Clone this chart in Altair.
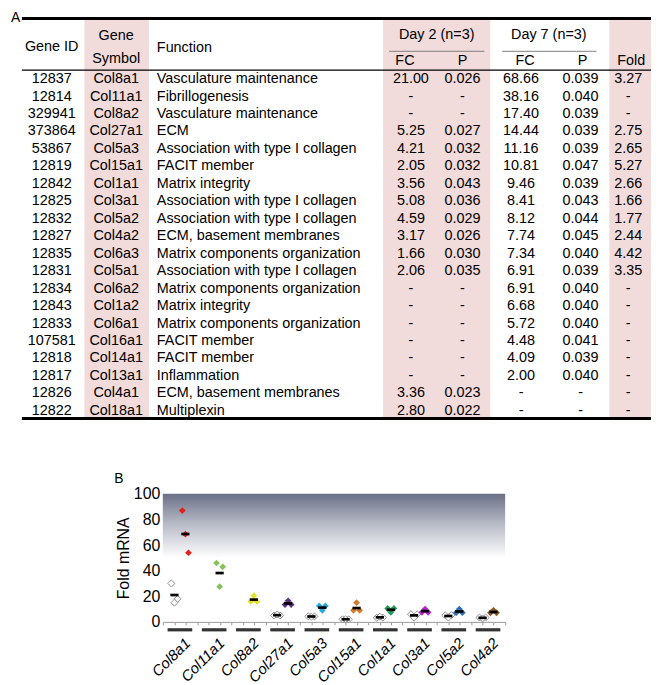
import altair as alt
import pandas as pd

# ---------------- Panel A: table values ----------------
gene_id = ["12837", "12814", "329941", "373864", "53867", "12819", "12842", "12825", "12832", "12827",
           "12835", "12831", "12834", "12843", "12833", "107581", "12818", "12817", "12826", "12822"]
gene_symbol = ["Col8a1", "Col11a1", "Col8a2", "Col27a1", "Col5a3", "Col15a1", "Col1a1", "Col3a1", "Col5a2", "Col4a2",
               "Col6a3", "Col5a1", "Col6a2", "Col1a2", "Col6a1", "Col16a1", "Col14a1", "Col13a1", "Col4a1", "Col18a1"]
gene_function = ["Vasculature maintenance", "Fibrillogenesis", "Vasculature maintenance", "ECM",
                 "Association with type I collagen", "FACIT member", "Matrix integrity",
                 "Association with type I collagen", "Association with type I collagen", "ECM, basement membranes",
                 "Matrix components organization", "Association with type I collagen",
                 "Matrix components organization", "Matrix integrity", "Matrix components organization",
                 "FACIT member", "FACIT member", "Inflammation", "ECM, basement membranes", "Multiplexin"]
day2_fc = ["21.00", "-", "-", "5.25", "4.21", "2.05", "3.56", "5.08", "4.59", "3.17",
           "1.66", "2.06", "-", "-", "-", "-", "-", "-", "3.36", "2.80"]
day2_p = ["0.026", "-", "-", "0.027", "0.032", "0.032", "0.043", "0.036", "0.029", "0.026",
          "0.030", "0.035", "-", "-", "-", "-", "-", "-", "0.023", "0.022"]
day7_fc = ["68.66", "38.16", "17.40", "14.44", "11.16", "10.81", "9.46", "8.41", "8.12", "7.74",
           "7.34", "6.91", "6.91", "6.68", "5.72", "4.48", "4.09", "2.00", "-", "-"]
day7_p = ["0.039", "0.040", "0.039", "0.039", "0.039", "0.047", "0.039", "0.043", "0.044", "0.045",
          "0.040", "0.039", "0.040", "0.040", "0.040", "0.041", "0.039", "0.040", "-", "-"]
fold_change = ["3.27", "-", "-", "2.75", "2.65", "5.27", "2.66", "1.66", "1.77", "2.44",
               "4.42", "3.35", "-", "-", "-", "-", "-", "-", "-", "-"]

header_labels = ["Gene ID", "Gene", "Symbol", "Day 2 (n=3)", "Day 7 (n=3)", "FC", "P", "FC", "P", "Fold"]
function_header = "Function"

# ---------------- Panel B: dot plot values ----------------
plot_genes = ["Col8a1", "Col11a1", "Col8a2", "Col27a1", "Col5a3", "Col15a1", "Col1a1", "Col3a1", "Col5a2", "Col4a2"]
plot_colors = ["#e3211c", "#86c15b", "#e2e22a", "#5e2d86", "#29a9df", "#d87a2c", "#1f9a55", "#b625c9", "#2a6fb5", "#8c5a2a"]
day2_points = [[30, 18, 15], [], [], [5.0, 5.0, 5.75], [4.3, 4.3, 4.0], [2.0, 2.0, 2.15],
               [3.3, 3.3, 4.1], [6.0, 6.0, 3.3], [5.2, 5.2, 3.4], [3.4, 3.4, 2.7]]
day7_points = [[87, 54, 68.5], [46, 43, 27.5], [16, 16, 20.5], [13.5, 13.5, 16.5], [12.5, 12.5, 9],
               [9, 9, 15], [10.5, 10.5, 7.5], [7.5, 7.5, 10], [7.2, 7.2, 10], [7.1, 7.1, 9]]

# ---------------- layout / style constants ----------------
FONT = "Liberation Sans"
PINK = "#f2dbdb"
TAB_W, TAB_H = 645, 476
ROW0_PX, ROW_PX = 69, 17.6
FS = 14.5


def rr(px):
    """table-local pixel row position -> row units"""
    return (px - ROW0_PX) / ROW_PX


Y_MIN, Y_MAX = rr(0), rr(TAB_H)
col_x = {"id": 41, "sym": 106, "fn": 147, "d2fc": 403, "d2p": 455, "d7fc": 514, "d7p": 574, "fold": 622}
header_x = [41, 106, 106, 429, 542, 397, 455, 518, 576, 625]
header_px = [37, 26, 49, 25, 25, 51, 51, 51, 51, 51]
PLOT_W, PLOT_H = 345, 129
SPACER_W = 105

# ---------------- Panel A chart ----------------
x_tab = alt.Scale(domain=[0, TAB_W], nice=False, zero=False)
y_tab = alt.Scale(domain=[Y_MIN, Y_MAX], reverse=True, nice=False, zero=False)

cells_center, cells_left = [], []
for key, vals in [("id", gene_id), ("sym", gene_symbol), ("d2fc", day2_fc), ("d2p", day2_p),
                  ("d7fc", day7_fc), ("d7p", day7_p), ("fold", fold_change)]:
    for r, v in enumerate(vals):
        cells_center.append({"text": v, "x": col_x[key], "r": r})
for r, v in enumerate(gene_function):
    cells_left.append({"text": v, "x": col_x["fn"], "r": r})
for t, xx, yy in zip(header_labels, header_x, header_px):
    cells_center.append({"text": t, "x": xx, "r": rr(yy)})
cells_left.append({"text": function_header, "x": col_x["fn"], "r": rr(38)})

TOP, HEAD, UNDER, BOTTOM = rr(8), rr(60), rr(41), rr(411)
bands_df = pd.DataFrame({"x0": [74, 375, 603], "x1": [139, 483, TAB_W],
                         "y0": [TOP] * 3, "y1": [BOTTOM] * 3})
thick_df = pd.DataFrame({"x0": [11, 11], "x1": [TAB_W, TAB_W], "y": [TOP, BOTTOM]})
thin_df = pd.DataFrame({"x0": [11], "x1": [TAB_W], "y": [HEAD]})
under_df = pd.DataFrame({"x0": [381, 495], "x1": [477, 590], "y": [UNDER, UNDER]})
panel_df = pd.DataFrame({"text": ["A", "B"], "x": [0, 104], "r": [Y_MIN, rr(465)]})


def xy(xf="x:Q", yf="r:Q"):
    return dict(x=alt.X(xf, scale=x_tab, axis=None), y=alt.Y(yf, scale=y_tab, axis=None))


bands = alt.Chart(bands_df).mark_rect(color=PINK).encode(
    x=alt.X("x0:Q", scale=x_tab, axis=None), x2="x1:Q",
    y=alt.Y("y0:Q", scale=y_tab, axis=None), y2="y1:Q")
thick = alt.Chart(thick_df).mark_rule(color="black", strokeWidth=3).encode(
    x=alt.X("x0:Q", scale=x_tab, axis=None), x2="x1:Q", y=alt.Y("y:Q", scale=y_tab, axis=None))
thin = alt.Chart(thin_df).mark_rule(color="black", strokeWidth=1.2).encode(
    x=alt.X("x0:Q", scale=x_tab, axis=None), x2="x1:Q", y=alt.Y("y:Q", scale=y_tab, axis=None))
under = alt.Chart(under_df).mark_rule(color="#808080", strokeWidth=1).encode(
    x=alt.X("x0:Q", scale=x_tab, axis=None), x2="x1:Q", y=alt.Y("y:Q", scale=y_tab, axis=None))
txt_c = alt.Chart(pd.DataFrame(cells_center)).mark_text(
    align="center", baseline="middle", fontSize=FS, font=FONT, color="black").encode(**xy(), text="text:N")
txt_l = alt.Chart(pd.DataFrame(cells_left)).mark_text(
    align="left", baseline="middle", fontSize=FS, font=FONT, color="black").encode(**xy(), text="text:N")
panels = alt.Chart(panel_df).mark_text(
    align="left", baseline="top", fontSize=14, font=FONT, color="black").encode(**xy(), text="text:N")

table = alt.layer(bands, thick, thin, under, txt_c, txt_l, panels).properties(width=TAB_W, height=TAB_H)

# ---------------- Panel B chart ----------------
pts = []
for i, g in enumerate(plot_genes):
    for rep, v in enumerate(day2_points[i]):
        pts.append({"gene": g, "idx": i, "day": 2, "rep": rep, "value": v})
    for rep, v in enumerate(day7_points[i]):
        pts.append({"gene": g, "idx": i, "day": 7, "rep": rep, "value": v})
pts_df = pd.DataFrame(pts)

means = []
for i, g in enumerate(plot_genes):
    k = gene_symbol.index(g)
    if day2_fc[k] != "-":
        means.append({"gene": g, "idx": i, "day": 2, "mean": float(day2_fc[k])})
    if day7_fc[k] != "-":
        means.append({"gene": g, "idx": i, "day": 7, "mean": float(day7_fc[k])})
means_df = pd.DataFrame(means)
groups_df = pd.DataFrame({"gene": plot_genes, "idx": list(range(len(plot_genes)))})

x_b = alt.Scale(domain=[0, len(plot_genes)], nice=False, zero=False)
y_b = alt.Scale(domain=[0, 100], nice=False)
pos_expr = "datum.idx + 0.5 + (datum.day == 2 ? -0.16 : 0.16)"
jit_expr = "(datum.rep == 0 ? -0.09 : (datum.rep == 1 ? 0.09 : 0))"

grad = alt.Chart(alt.Data(values=[{"a": 0}])).mark_rect(
    color=alt.Gradient(gradient="linear",
                       stops=[alt.GradientStop(color="#6a7186", offset=0),
                              alt.GradientStop(color="#b4b8c4", offset=0.45),
                              alt.GradientStop(color="#ffffff", offset=1)],
                       x1=0, x2=0, y1=0, y2=1)
).encode(x=alt.value(0), x2=alt.value(PLOT_W), y=alt.value(0), y2=alt.value(PLOT_H * 0.5))

x_axis = alt.Axis(values=[k / 3 for k in range(3 * len(plot_genes) + 1)], labels=False, title=None,
                  domainColor="#9a9a9a", tickColor="#9a9a9a", tickSize=3, grid=False)
y_axis = alt.Axis(values=[0, 20, 40, 60, 80, 100], title="Fold mRNA", titleFontSize=16,
                  titleFontWeight="normal", titleColor="black", labelFontSize=16, labelColor="black",
                  labelFont=FONT, titleFont=FONT, domain=False, ticks=False, labelPadding=3,
                  titlePadding=2, grid=False, labelOverlap=False, labelFlush=False)

d2 = alt.Chart(pts_df).transform_filter("datum.day == 2").transform_calculate(
    xpos=pos_expr + " + " + jit_expr
).mark_point(shape="diamond", filled=True, fill="white", stroke="#8c8c8c", strokeWidth=1,
             size=50, opacity=1).encode(
    x=alt.X("xpos:Q", scale=x_b, axis=x_axis),
    y=alt.Y("value:Q", scale=y_b, axis=y_axis))

d7 = alt.Chart(pts_df).transform_filter("datum.day == 7").transform_calculate(
    xpos=pos_expr + " + " + jit_expr
).mark_point(shape="diamond", filled=True, size=46, opacity=1).encode(
    x=alt.X("xpos:Q", scale=x_b, axis=x_axis),
    y=alt.Y("value:Q", scale=y_b, axis=y_axis),
    color=alt.Color("gene:N", scale=alt.Scale(domain=plot_genes, range=plot_colors), legend=None))

mean_bars = alt.Chart(means_df).transform_calculate(
    m1=pos_expr + " - 0.12", m2=pos_expr + " + 0.12"
).mark_rule(color="black", strokeWidth=2.7).encode(
    x=alt.X("m1:Q", scale=x_b, axis=x_axis), x2="m2:Q", y=alt.Y("mean:Q", scale=y_b, axis=y_axis))

group_bars = alt.Chart(groups_df).transform_calculate(
    b1="datum.idx + 0.14", b2="datum.idx + 0.86"
).mark_rule(color="#333333", strokeWidth=3.2).encode(
    x=alt.X("b1:Q", scale=x_b, axis=x_axis), x2="b2:Q", y=alt.value(PLOT_H + 8))

group_labels = alt.Chart(groups_df).transform_calculate(
    lx="datum.idx + 0.73"
).mark_text(angle=315, align="right", baseline="middle", fontSize=15, fontStyle="italic",
            font=FONT, color="black").encode(
    x=alt.X("lx:Q", scale=x_b, axis=x_axis), y=alt.value(PLOT_H + 19), text="gene:N")

plot = alt.layer(grad, d2, d7, mean_bars, group_bars, group_labels).properties(width=PLOT_W, height=PLOT_H)

spacer = alt.Chart(alt.Data(values=[{"a": 0}])).mark_point(opacity=0).encode(
    x=alt.value(0), y=alt.value(0)).properties(width=SPACER_W, height=PLOT_H)

panel_b = alt.hconcat(spacer, plot, spacing=0)

chart = alt.vconcat(table, panel_b, spacing=0).properties(padding=0).configure(
    font=FONT).configure_view(stroke=None).configure_axis(labelOverlap=False)

chart.save("out.html", embed_options={"renderer": "svg", "actions": False})
